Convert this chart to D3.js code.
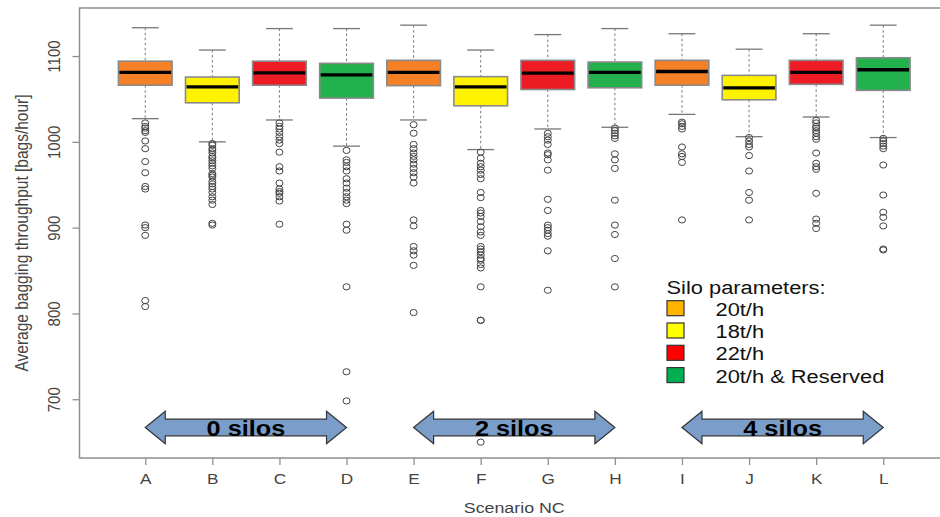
<!DOCTYPE html>
<html>
<head>
<meta charset="utf-8">
<script src="https://cdn.jsdelivr.net/npm/d3@7"></script>
<style>
  html, body { margin: 0; padding: 0; background: #fff; }
  svg { display: block; font-family: "Liberation Sans", Arial, sans-serif; }
</style>
</head>
<body>
<div id="chart"></div>
<script>
// scenario labels along the x axis
const categories = ["A", "B", "C", "D", "E", "F", "G", "H", "I", "J", "K", "L"];

// box statistics (bags/hour)
const whiskerHigh = [1133, 1107, 1132, 1132, 1136, 1107, 1125, 1132, 1126, 1108, 1126, 1136];
const q3 = [1094, 1075.5, 1094, 1091.5, 1095, 1076, 1095, 1093, 1095, 1077.5, 1095, 1098];
const median = [1081, 1064, 1080.5, 1078, 1081, 1064, 1080, 1081, 1082, 1063, 1081, 1084];
const q1 = [1066, 1045.5, 1066, 1051, 1065.5, 1042, 1061, 1063, 1066, 1049, 1067, 1060];
const whiskerLow = [1027, 1000, 1025.5, 995, 1025.5, 991, 1015, 1017, 1032, 1006, 1029, 1005];

const outliers = [
  [1022, 1018, 1016, 1013, 1011, 1001, 992, 977, 964, 948, 945, 903, 900, 891, 815, 808],
  [998, 996, 992, 990, 987, 983, 981, 978, 975, 972, 969, 963, 961, 959, 954, 951, 948, 945, 941, 936, 932, 927, 905, 903],
  [1022, 1018, 1015, 1011, 1006, 1002, 998, 988, 971, 966, 952, 945, 942, 940, 936, 931, 904],
  [990, 979, 976, 971, 966, 957, 952, 946, 941, 936, 932, 928, 904, 897, 831, 732, 698],
  [1020, 1010, 997, 992, 987, 983, 979, 974, 969, 964, 959, 952, 909, 902, 878, 873, 868, 856, 801],
  [988, 981, 975, 971, 967, 962, 957, 941, 935, 920, 917, 913, 907, 901, 895, 891, 878, 875, 872, 868, 864, 862, 857, 853, 831, 792, 792, 650],
  [1010, 1006, 1002, 997, 987, 985, 979, 967, 933, 920, 903, 900, 897, 893, 890, 873, 827],
  [1016, 1013, 1010, 1007, 1004, 986, 979, 969, 932, 903, 892, 864, 831],
  [1023, 1021, 1018, 1015, 994, 986, 983, 976, 909],
  [1005, 1001, 997, 994, 984, 966, 941, 932, 909],
  [1025, 1022, 1018, 1016, 1013, 1010, 1006, 1003, 987, 975, 971, 968, 940, 910, 905, 899],
  [1004, 1001, 998, 995, 992, 973, 938, 918, 912, 902, 875, 874]
];

// silo parameter of each scenario (index into the legend)
const silo = [0, 1, 2, 3, 0, 1, 2, 3, 0, 1, 2, 3];
const boxColors = ["#F58025", "#FFF200", "#ED1C24", "#22B14C"];

const legendTitle = "Silo parameters:";
const legendLabels = ["20t/h", "18t/h", "22t/h", "20t/h & Reserved"];
const legendColors = ["#FFB400", "#FFFF00", "#FF0000", "#00B050"];

const arrowLabels = ["0 silos", "2 silos", "4 silos"];
const arrowFrom = ["A", "E", "I"];
const arrowTo = ["D", "H", "L"];

const yTicks = [700, 800, 900, 1000, 1100];

const width = 940;
const height = 517;
const plot = { left: 79.5, right: 949, top: 8, bottom: 458 };
const sx = 1.15; // the picture's text is a bit wide

const svg = d3.select("#chart")
  .append("svg")
  .attr("width", width)
  .attr("height", height)
  .attr("viewBox", [0, 0, width, height]);

const x = d3.scalePoint()
  .domain(categories)
  .range([plot.left, plot.right])
  .padding(0.98);

const y = d3.scaleLinear()
  .domain([631.5, 1156])
  .range([plot.bottom, plot.top]);

const boxW = x.step() * 0.8;

// frame (right side falls outside the picture)
svg.append("path")
  .attr("d", `M${width + 20},${plot.top}H${plot.left}V${plot.bottom}H${width + 20}`)
  .attr("fill", "none")
  .attr("stroke", "#8f8f8f")
  .attr("stroke-width", 1.5);

// y axis
const yAxis = svg.append("g")
  .attr("transform", `translate(${plot.left},0)`)
  .call(d3.axisLeft(y).tickValues(yTicks).tickFormat(d3.format("d")).tickSize(7).tickSizeOuter(0));
yAxis.select(".domain").remove();
yAxis.selectAll(".tick line").attr("stroke", "#8f8f8f").attr("stroke-width", 1.3);
yAxis.selectAll(".tick text")
  .attr("x", 0).attr("y", 0).attr("dy", 0)
  .attr("text-anchor", "middle")
  .attr("fill", "#444")
  .attr("font-size", 15)
  .attr("transform", `translate(-19.5,0) scale(${sx},1) rotate(-90)`);

// x axis
const xAxis = svg.append("g")
  .attr("transform", `translate(0,${plot.bottom})`)
  .call(d3.axisBottom(x).tickSize(7).tickSizeOuter(0));
xAxis.select(".domain").remove();
xAxis.selectAll(".tick line").attr("stroke", "#8f8f8f").attr("stroke-width", 1.3);
xAxis.selectAll(".tick text")
  .attr("x", 0).attr("y", 0).attr("dy", 0)
  .attr("fill", "#444")
  .attr("font-size", 15)
  .attr("transform", `translate(0,25.5) scale(${sx},1)`);

// axis titles
svg.append("text")
  .attr("transform", `translate(28,${(plot.top + plot.bottom) / 2}) scale(${sx},1) rotate(-90)`)
  .attr("text-anchor", "middle")
  .attr("font-size", 15.5)
  .attr("fill", "#444")
  .text("Average bagging throughput [bags/hour]");

svg.append("text")
  .attr("transform", `translate(${(plot.left + plot.right) / 2},513) scale(${sx},1)`)
  .attr("text-anchor", "middle")
  .attr("font-size", 15.5)
  .attr("fill", "#444")
  .text("Scenario NC");

// boxes
const rows = categories.map((c, i) => ({
  c, lo: whiskerLow[i], q1: q1[i], med: median[i], q3: q3[i], hi: whiskerHigh[i],
  out: outliers[i], fill: boxColors[silo[i]]
}));

const g = svg.append("g")
  .selectAll("g")
  .data(rows)
  .join("g")
  .attr("transform", (d) => `translate(${x(d.c)},0)`);

// dotted whiskers
g.append("line")
  .attr("y1", (d) => y(d.hi)).attr("y2", (d) => y(d.q3))
  .attr("stroke", "#777").attr("stroke-dasharray", "2.5,2.5");
g.append("line")
  .attr("y1", (d) => y(d.q1)).attr("y2", (d) => y(d.lo))
  .attr("stroke", "#777").attr("stroke-dasharray", "2.5,2.5");

// staples
g.append("line")
  .attr("x1", -boxW / 4).attr("x2", boxW / 4)
  .attr("y1", (d) => y(d.hi)).attr("y2", (d) => y(d.hi))
  .attr("stroke", "#777").attr("stroke-width", 1.3);
g.append("line")
  .attr("x1", -boxW / 4).attr("x2", boxW / 4)
  .attr("y1", (d) => y(d.lo)).attr("y2", (d) => y(d.lo))
  .attr("stroke", "#777").attr("stroke-width", 1.3);

g.append("rect")
  .attr("x", -boxW / 2)
  .attr("width", boxW)
  .attr("y", (d) => y(d.q3))
  .attr("height", (d) => y(d.q1) - y(d.q3))
  .attr("fill", (d) => d.fill)
  .attr("stroke", "#8a8a8a")
  .attr("stroke-width", 1.6);

g.append("line")
  .attr("x1", -boxW / 2 + 1).attr("x2", boxW / 2 - 1)
  .attr("y1", (d) => y(d.med)).attr("y2", (d) => y(d.med))
  .attr("stroke", "#000").attr("stroke-width", 3.3);

// outliers
g.selectAll("ellipse")
  .data((d) => d.out)
  .join("ellipse")
  .attr("cx", 0)
  .attr("cy", (v) => y(v))
  .attr("rx", 3.5)
  .attr("ry", 3.1)
  .attr("fill", "none")
  .attr("stroke", "#444")
  .attr("stroke-width", 1);

// legend
const lg = svg.append("g");
lg.append("text")
  .attr("transform", `translate(666.5,293.5) scale(${sx},1)`)
  .attr("font-size", 19)
  .attr("fill", "#111")
  .text(legendTitle);

const items = lg.selectAll("g.item")
  .data(legendLabels)
  .join("g")
  .attr("class", "item")
  .attr("transform", (d, i) => `translate(0,${315.7 + i * 22.3})`);
items.append("rect")
  .attr("x", 667).attr("y", -15)
  .attr("width", 17).attr("height", 15)
  .attr("fill", (d, i) => legendColors[i])
  .attr("stroke", "#333").attr("stroke-width", 1.2);
items.append("text")
  .attr("transform", `translate(715.5,0) scale(${sx},1)`)
  .attr("font-size", 19)
  .attr("fill", "#111")
  .text((d) => d);

// double arrows marking silo counts
const arrows = arrowLabels.map((label, i) => ({ label, x0: x(arrowFrom[i]), x1: x(arrowTo[i]) }));
const cy = 427.5, body = 8.3, head = 16.3, headLen = 20;

const ag = svg.append("g")
  .selectAll("g")
  .data(arrows)
  .join("g");
ag.append("path")
  .attr("d", (d) => {
    const p = d3.path();
    p.moveTo(d.x0, cy);
    p.lineTo(d.x0 + headLen, cy - head);
    p.lineTo(d.x0 + headLen, cy - body);
    p.lineTo(d.x1 - headLen, cy - body);
    p.lineTo(d.x1 - headLen, cy - head);
    p.lineTo(d.x1, cy);
    p.lineTo(d.x1 - headLen, cy + head);
    p.lineTo(d.x1 - headLen, cy + body);
    p.lineTo(d.x0 + headLen, cy + body);
    p.lineTo(d.x0 + headLen, cy + head);
    p.closePath();
    return p.toString();
  })
  .attr("fill", "#7A9DC9")
  .attr("stroke", "#333")
  .attr("stroke-width", 1.2);
ag.append("text")
  .attr("transform", (d) => `translate(${(d.x0 + d.x1) / 2},435.5) scale(${sx},1)`)
  .attr("text-anchor", "middle")
  .attr("font-size", 22)
  .attr("font-weight", "bold")
  .attr("fill", "#000")
  .text((d) => d.label);
</script>
</body>
</html>
